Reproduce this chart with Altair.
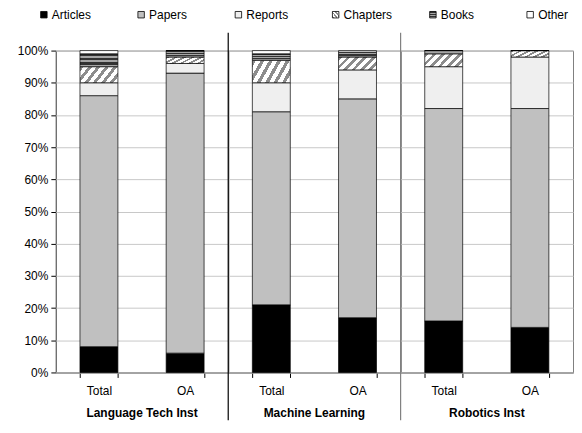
import altair as alt
import pandas as pd

groups = ["Language Tech Inst", "Machine Learning", "Robotics Inst"]
bars = ["Total", "OA"]
types = ["Articles", "Papers", "Reports", "Chapters", "Books", "Other"]

# values per bar: LTI Total, LTI OA, ML Total, ML OA, RI Total, RI OA
articles = [8, 6, 21, 17, 16, 14]
papers = [78, 87, 60, 68, 66, 68]
reports = [4, 3, 9, 9, 13, 16]
chapters = [5, 2, 7, 4, 4, 2]
books = [4, 2, 2, 1.5, 1, 0]
other = [1, 0, 1, 0.5, 0, 0]

series = [articles, papers, reports, chapters, books, other]
rows = []
i = 0
for g in groups:
    for b in bars:
        for t, s in zip(types, series):
            rows.append({"group": g, "bar": b, "type": t, "value": s[i]})
        i += 1
df = pd.DataFrame(rows)


def stripes(x2, y2, n, c1, c2, frac=0.5):
    stops = []
    for k in range(n):
        a, m, e = k / n, (k + frac) / n, (k + 1) / n
        stops += [{"offset": a, "color": c1}, {"offset": m, "color": c1},
                  {"offset": m, "color": c2}, {"offset": e, "color": c2}]
    return {"gradient": "linear", "x1": 0, "y1": 0, "x2": x2, "y2": y2, "stops": stops}


FILL = {
    "Articles": "#000000",
    "Papers": "#c0c0c0",
    "Reports": "#efefef",
    "Chapters": stripes(1.2, 0.4, 6, "#8c8c8c", "#ffffff", 0.45),
    "Books": stripes(0, 1, 3, "#333333", "#a6a6a6"),
    "Other": "#ffffff",
}
fill_enc = {
    "condition": [{"test": f"datum.type === '{t}'", "value": FILL[t]} for t in types[1:]],
    "value": FILL["Articles"],
}

W = 173
H = 323
FONT = "Liberation Sans"
FS = 12

bar_layer = alt.Chart().mark_bar(stroke="#000000", strokeWidth=0.7).encode(
    x=alt.X("bar:N", sort=bars, title=None,
            scale=alt.Scale(paddingInner=0.56, paddingOuter=0.28),
            axis=alt.Axis(labelAngle=0, tickBand="extent", domainColor="#000000",
                          tickColor="#000000", tickSize=5, labelPadding=8,
                          labelFontSize=FS, labelColor="#000000", grid=False)),
    y=alt.Y("y0:Q", title=None, scale=alt.Scale(domain=[0, 100], nice=False),
            axis=alt.Axis(values=list(range(0, 101, 10)), labelExpr="datum.value + '%'",
                          domainColor="#000000", tickColor="#000000", tickSize=5,
                          labelPadding=3, labelFontSize=FS, labelColor="#000000",
                          gridColor="#c8c8c8")),
    y2="y1:Q",
    fill=fill_enc,
)

sep_layer = alt.Chart().transform_filter(
    "datum.type === 'Articles' && datum.bar === 'Total' && datum.group !== 'Language Tech Inst'"
).mark_rule(strokeWidth=1.2).encode(
    x=alt.value(0), y=alt.value(-18), y2=alt.value(H + 48),
    color=alt.condition("datum.group === 'Machine Learning'", alt.value("#000000"), alt.value("#808080")),
)

main = alt.layer(bar_layer, sep_layer, data=df).transform_calculate(
    order="indexof(['Articles','Papers','Reports','Chapters','Books','Other'], datum.type)"
).transform_stack(
    stack="value", groupby=["group", "bar"], as_=["y0", "y1"],
    sort=[alt.SortField("order", "ascending")],
).properties(width=W, height=H, view=alt.ViewBackground(stroke="#808080")).facet(
    column=alt.Column("group:N", sort=groups, title=None,
                      header=alt.Header(labelOrient="bottom", labelFontWeight="bold",
                                        labelFontSize=FS, labelFont=FONT, labelColor="#000000",
                                        labelPadding=12)),
    spacing=0,
    bounds="flush",
)

leg_df = pd.DataFrame({"type": types})
leg_base = alt.Chart(leg_df).encode(
    x=alt.X("type:N", sort=types, axis=None, scale=alt.Scale(type="point", padding=0)))
leg_sq = leg_base.mark_square(size=42, stroke="#000000", strokeWidth=0.8, opacity=1,
                              xOffset=-12).encode(fill=fill_enc)
leg_tx = leg_base.mark_text(align="left", dx=8, xOffset=-12, fontSize=FS, font=FONT,
                            color="#000000").encode(text="type:N")
legend = alt.layer(leg_sq, leg_tx).properties(width=488, height=12,
                                               view=alt.ViewBackground(stroke=None))

chart = alt.vconcat(legend, main, spacing=10).properties(
    padding={"left": 9, "top": 0, "right": 0, "bottom": 0}
).configure(font=FONT).configure_view(stroke=None)

chart.save("out.html", embed_options={"renderer": "svg", "actions": False})
